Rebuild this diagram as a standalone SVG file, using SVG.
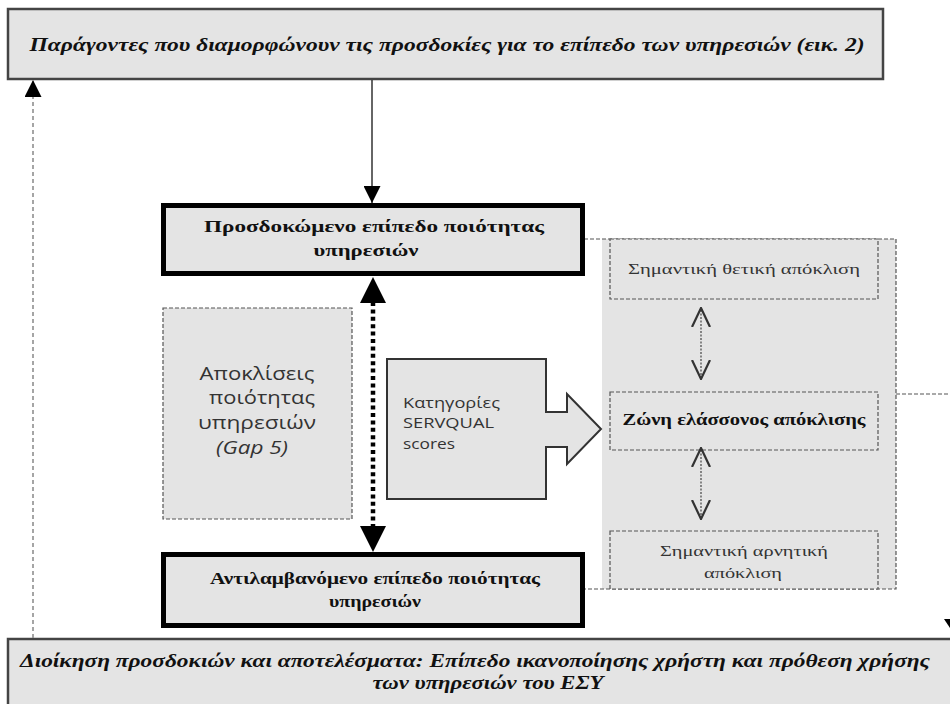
<svg xmlns="http://www.w3.org/2000/svg" width="950" height="704" viewBox="0 0 950 704">
<defs>
<style>
.ser{font-family:"Liberation Serif","DejaVu Serif",serif;fill:#111}
.san{font-family:"Open Sans","Liberation Sans",sans-serif;fill:#333}
.bi{font-weight:bold;font-style:italic}
.b{font-weight:bold}
.big{fill:#e4e4e4;stroke:#000;stroke-width:5}
.band{fill:#e4e4e4;stroke:#444;stroke-width:2.5}
.dbox{fill:#e4e4e4;stroke:#555;stroke-width:1.2;stroke-dasharray:4 2}
.dash{fill:none;stroke:#555;stroke-width:1.2;stroke-dasharray:4 2}
</style>
<marker id="tri" viewBox="0 0 10 10" refX="10" refY="5" markerUnits="userSpaceOnUse" markerWidth="17" markerHeight="17" orient="auto"><path d="M0,0 L10,5 L0,10 z" fill="#000"/></marker>
<marker id="triL" viewBox="0 0 10 10" refX="10" refY="5" markerUnits="userSpaceOnUse" markerWidth="26" markerHeight="26" orient="auto"><path d="M0,0 L10,5 L0,10 z" fill="#000"/></marker>
<marker id="vee" viewBox="0 0 10 10" refX="10" refY="5" markerUnits="userSpaceOnUse" markerWidth="20" markerHeight="22" orient="auto"><path d="M0,0.5 L9.5,5 L0,9.5" fill="none" stroke="#333" stroke-width="1.1"/></marker>
</defs>
<rect width="950" height="704" fill="#fff"/>

<g id="panel">
<rect x="602" y="239" width="294" height="350" fill="#e4e4e4"/>
<path class="dash" d="M584,239 H896 V589 H584"/>
</g>

<g id="factors">
<rect class="band" x="8" y="9" width="875" height="70"/>
<text class="ser bi" x="447" y="51" font-size="19" text-anchor="middle" textLength="835" lengthAdjust="spacingAndGlyphs">Παράγοντες που διαμορφώνουν τις προσδοκίες για το επίπεδο των υπηρεσιών (εικ. 2)</text>
</g>

<g id="expected">
<rect class="big" x="163.5" y="205.5" width="419" height="68"/>
<text class="ser b" x="374" y="232" font-size="16.5" text-anchor="middle" textLength="340" lengthAdjust="spacingAndGlyphs">Προσδοκώμενο επίπεδο ποιότητας</text>
<text class="ser b" x="366" y="256" font-size="16.5" text-anchor="middle" textLength="105" lengthAdjust="spacingAndGlyphs">υπηρεσιών</text>
</g>

<g id="gap5">
<rect class="dbox" x="163" y="308" width="189" height="211" stroke="#888"/>
<text class="san" x="257" y="380" font-size="19" text-anchor="middle" textLength="115" lengthAdjust="spacingAndGlyphs">Αποκλίσεις</text>
<text class="san" x="262" y="404" font-size="19" text-anchor="middle" textLength="106" lengthAdjust="spacingAndGlyphs">ποιότητας</text>
<text class="san" x="257" y="429" font-size="19" text-anchor="middle" textLength="118" lengthAdjust="spacingAndGlyphs">υπηρεσιών</text>
<text class="san" x="252" y="454" font-size="19" font-style="italic" text-anchor="middle" textLength="72" lengthAdjust="spacingAndGlyphs">(Gap 5)</text>
</g>

<g id="servqual">
<path d="M387,359 H546 V412 H567 V394 L601,429 L567,464 V447 H546 V499 H387 Z" fill="#e4e4e4" stroke="#333" stroke-width="2"/>
<text class="san" x="403" y="408" font-size="14" textLength="97" lengthAdjust="spacingAndGlyphs">Κατηγορίες</text>
<text class="san" x="403" y="428" font-size="14" textLength="91" lengthAdjust="spacingAndGlyphs">SERVQUAL</text>
<text class="san" x="403" y="449" font-size="14" textLength="52" lengthAdjust="spacingAndGlyphs">scores</text>
</g>

<g id="positive">
<rect class="dbox" x="610" y="239" width="268" height="60"/>
<text class="ser" x="744" y="274" font-size="15" text-anchor="middle" textLength="232" lengthAdjust="spacingAndGlyphs" style="fill:#333">Σημαντική θετική απόκλιση</text>
</g>

<g id="minor">
<rect class="dbox" x="610" y="392" width="268" height="58"/>
<text class="ser b" x="744" y="425" font-size="16.5" text-anchor="middle" textLength="243" lengthAdjust="spacingAndGlyphs">Ζώνη ελάσσονος απόκλισης</text>
</g>

<g id="negative">
<rect class="dbox" x="610" y="531" width="268" height="58"/>
<text class="ser" x="744" y="556" font-size="15" text-anchor="middle" textLength="168" lengthAdjust="spacingAndGlyphs" style="fill:#333">Σημαντική αρνητική</text>
<text class="ser" x="743" y="578" font-size="15" text-anchor="middle" textLength="78" lengthAdjust="spacingAndGlyphs" style="fill:#333">απόκλιση</text>
</g>

<g id="perceived">
<rect class="big" x="163.5" y="554.5" width="419" height="71"/>
<text class="ser b" x="375" y="584" font-size="16.5" text-anchor="middle" textLength="330" lengthAdjust="spacingAndGlyphs">Αντιλαμβανόμενο επίπεδο ποιότητας</text>
<text class="ser b" x="375" y="607" font-size="16.5" text-anchor="middle" textLength="92" lengthAdjust="spacingAndGlyphs">υπηρεσιών</text>
</g>

<g id="outcomes">
<rect class="band" x="8" y="639" width="960" height="80"/>
<text class="ser bi" x="475" y="667" font-size="18" text-anchor="middle" textLength="910" lengthAdjust="spacingAndGlyphs">Διοίκηση προσδοκιών και αποτελέσματα: Επίπεδο ικανοποίησης χρήστη και πρόθεση χρήσης</text>
<text class="ser bi" x="488" y="689" font-size="18" text-anchor="middle" textLength="231" lengthAdjust="spacingAndGlyphs">των υπηρεσιών του ΕΣΥ</text>
</g>

<g id="connectors">
<line x1="372" y1="80" x2="372" y2="203" stroke="#333" stroke-width="1.5" marker-end="url(#tri)"/>
<line x1="33" y1="638" x2="33" y2="80" stroke="#888" stroke-width="1.5" stroke-dasharray="4 3" marker-end="url(#tri)"/>
<line x1="373" y1="302" x2="373" y2="527" stroke="#000" stroke-width="4.5" stroke-dasharray="4 3.4"/>
<line x1="373" y1="400" x2="373" y2="277" stroke="none" marker-end="url(#triL)"/>
<line x1="373" y1="400" x2="373" y2="552" stroke="none" marker-end="url(#triL)"/>
<line x1="701" y1="310" x2="701" y2="378" stroke="#444" stroke-width="1.2" stroke-dasharray="2 1.5"/>
<line x1="701" y1="340" x2="701" y2="307" stroke="none" marker-end="url(#vee)"/>
<line x1="701" y1="340" x2="701" y2="380" stroke="none" marker-end="url(#vee)"/>
<line x1="701" y1="450" x2="701" y2="518" stroke="#444" stroke-width="1.2" stroke-dasharray="2 1.5"/>
<line x1="701" y1="480" x2="701" y2="447" stroke="none" marker-end="url(#vee)"/>
<line x1="701" y1="480" x2="701" y2="520" stroke="none" marker-end="url(#vee)"/>
<path class="dash" d="M896,394 H950"/>
<polygon points="944,619 956,619 950,628" fill="#000"/>
</g>
</svg>
